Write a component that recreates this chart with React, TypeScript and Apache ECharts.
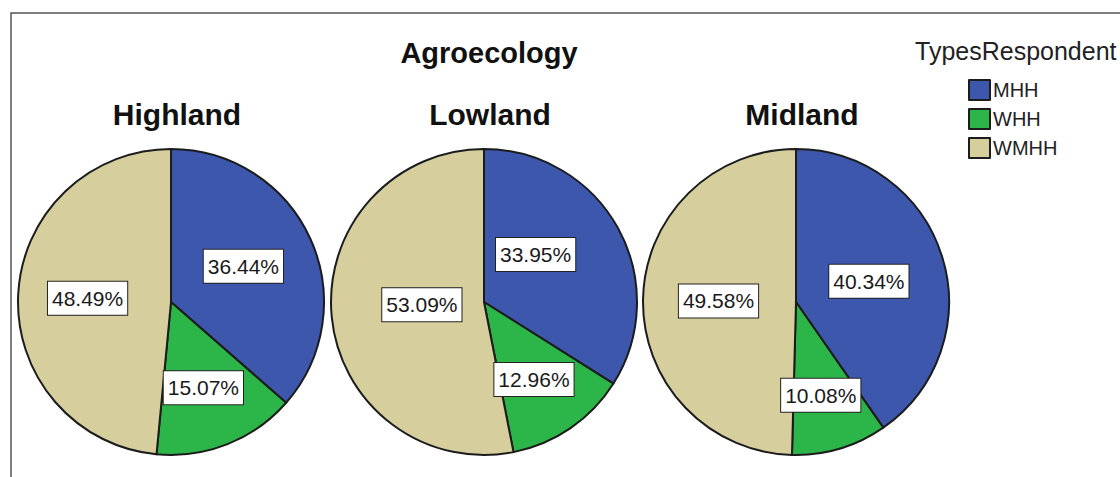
import React, { useEffect, useRef } from "react";
import * as echarts from "echarts";

const categories = ["MHH", "WHH", "WMHH"];
const regions = ["Highland", "Lowland", "Midland"];
const mhhValues = [36.44, 33.95, 40.34];
const whhValues = [15.07, 12.96, 10.08];
const wmhhValues = [48.49, 53.09, 49.58];
const colors = ["#3c57ab", "#2cb649", "#d6cf9d"];
const centersX = [171, 484, 796];
// small label nudges (styling) per region, per category
const labelNudges = [
  [[0, -3], [3, 12], [-4, 0]],
  [[-18, -9], [5, 12], [17, -5]],
  [[-3, 3], [2, 17], [2, 0]],
];

const FONT = "'Liberation Sans', Arial, sans-serif";

export default function App() {
  const ref = useRef<HTMLDivElement>(null);
  useEffect(() => {
    document.body.style.margin = "0";
    if (!ref.current) return;
    const chart = echarts.init(ref.current, null, { renderer: "svg" });
    const seriesValues = [mhhValues, whhValues, wmhhValues];
    const option: any = {
      animation: false,
      backgroundColor: "#ffffff",
      color: colors,
      title: [
        {
          text: "Agroecology",
          left: 484,
          top: 33,
          textAlign: "center",
          textStyle: { fontFamily: FONT, fontSize: 29, fontWeight: "bold", color: "#111" },
        },
        ...regions.map((r, i) => ({
          text: r,
          left: centersX[i] + 1,
          top: 94,
          textAlign: "center",
          textStyle: { fontFamily: FONT, fontSize: 30, fontWeight: "bold", color: "#111" },
        })),
        {
          text: "TypesRespondent",
          left: 910,
          top: 33,
          textStyle: { fontFamily: FONT, fontSize: 25, fontWeight: "normal", color: "#222" },
        },
      ],
      legend: {
        orient: "vertical",
        left: 968,
        top: 79,
        padding: 0,
        itemWidth: 21,
        itemHeight: 20,
        itemGap: 7,
        icon: "rect",
        data: categories,
        textStyle: { fontFamily: FONT, fontSize: 20, color: "#222", padding: [0, 0, 0, -2] },
        selectedMode: false,
      },
      graphic: [
        {
          type: "polyline",
          shape: { points: [[1120, 13], [11, 13], [11, 477]] },
          style: { stroke: "#555", lineWidth: 1.5, fill: "none" },
          silent: true,
        },
      ],
      series: regions.map((r, i) => ({
        type: "pie",
        name: r,
        center: [centersX[i], 302],
        radius: 153,
        startAngle: 90,
        clockwise: true,
        avoidLabelOverlap: false,
        emphasis: { disabled: true },
        itemStyle: { borderColor: "#1c1c1c", borderWidth: 2 },
        labelLine: { show: false },
        label: {
          show: true,
          position: "inside",
          formatter: (p: any) => p.value.toFixed(2) + "%",
          fontFamily: FONT,
          fontSize: 21,
          color: "#1a1a1a",
          backgroundColor: "#ffffff",
          borderColor: "#222",
          borderWidth: 1,
          padding: [7, 4, 5, 4],
        },
        data: categories.map((c, k) => ({
          name: c,
          value: seriesValues[k][i],
          label: { offset: labelNudges[i][k] },
        })),
      })),
    };
    chart.setOption(option);
    return () => chart.dispose();
  }, []);
  return <div ref={ref} style={{ width: 1120, height: 477 }} />;
}
